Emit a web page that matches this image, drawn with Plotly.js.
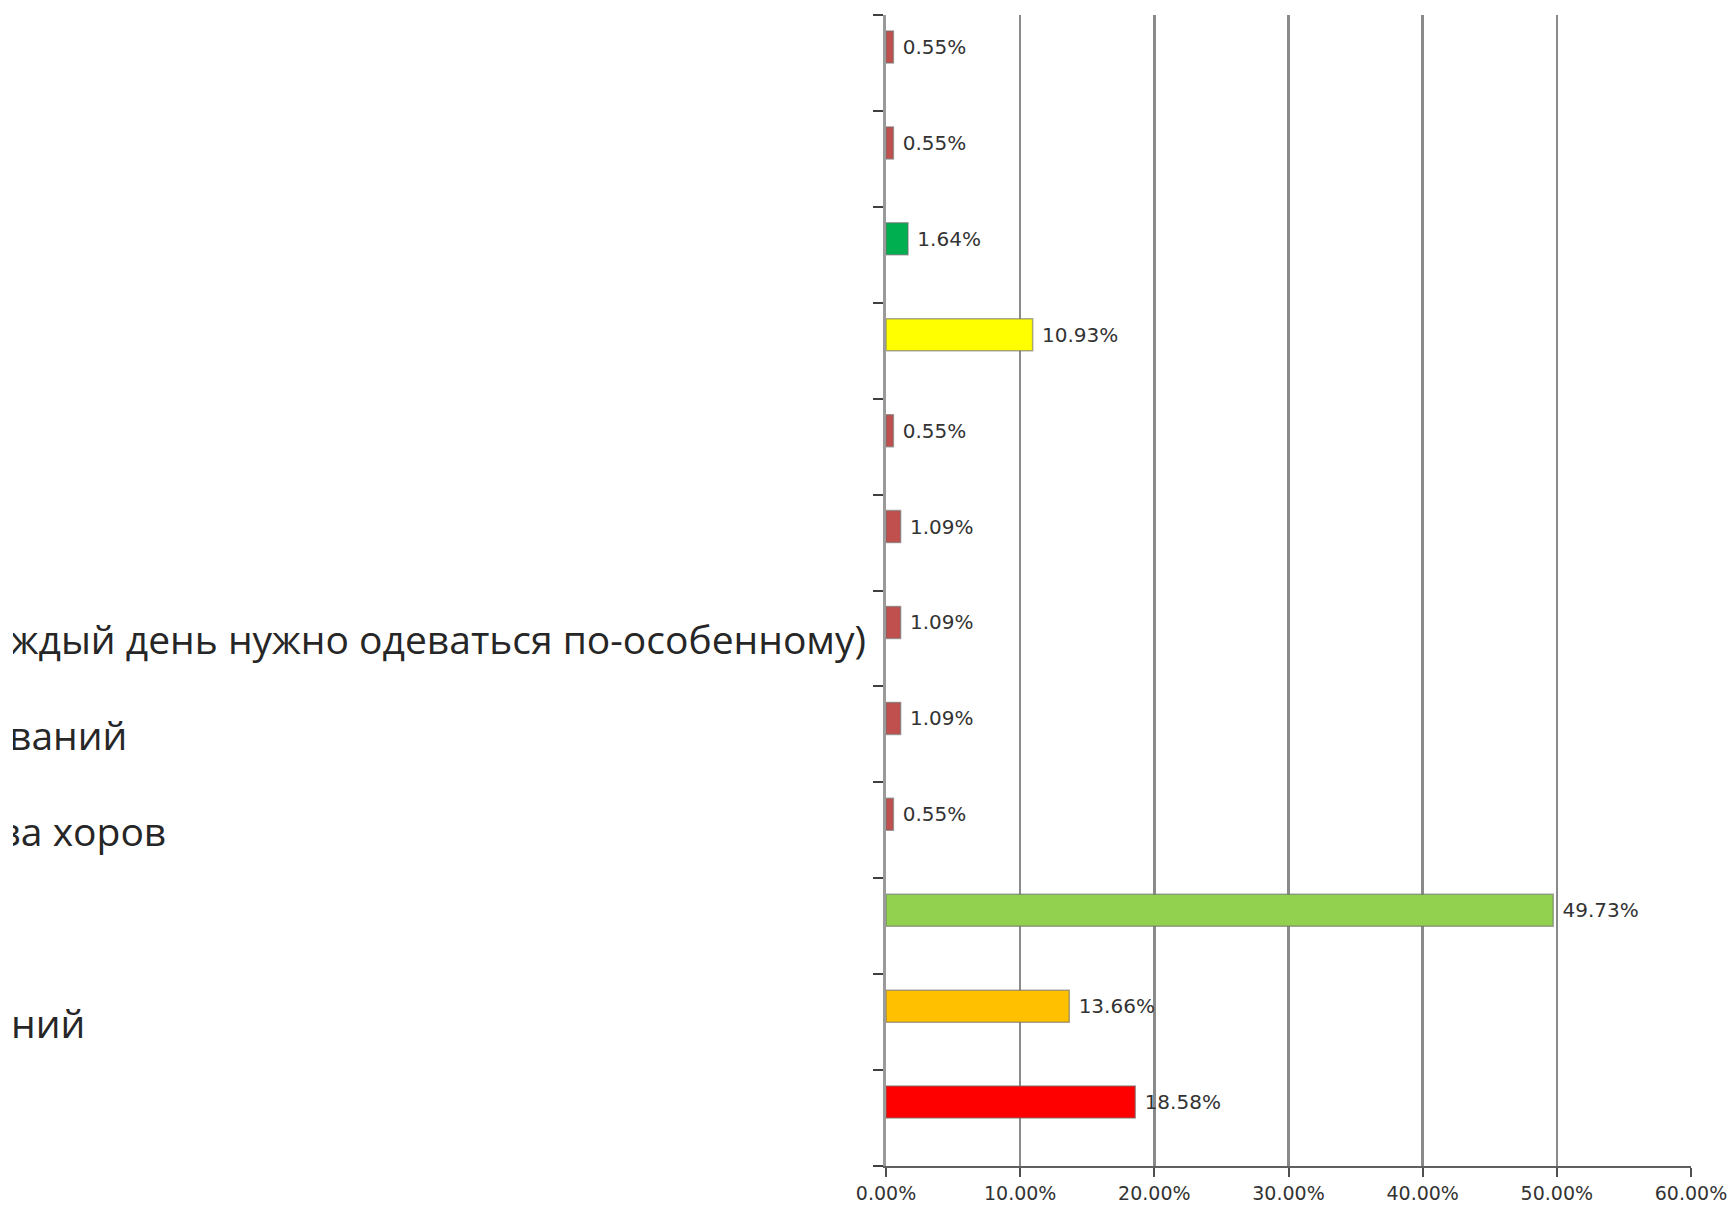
<!DOCTYPE html>
<html>
<head>
<meta charset="utf-8">
<script src="https://cdn.plot.ly/plotly-3.0.1.min.js"></script>
<style>
  html, body { margin: 0; padding: 0; background: #ffffff; }
  #wrap { position: relative; width: 1734px; height: 1207px; overflow: hidden; }
  #chart { position: absolute; left: 0; top: 0; width: 1734px; height: 1207px; }
  #edge { position: absolute; left: 0; top: 0; width: 13px; height: 1207px; background: #ffffff; }
</style>
</head>
<body>
<div id="wrap"><div id="chart"></div><div id="edge"></div></div>
<script>
// ---- data (bottom to top, as the category axis runs) ----
const categoryLabels = [
  "",
  "ний",
  "",
  "за хоров",
  "ваний",
  "каждый день нужно одеваться по-особенному)",
  "",
  "",
  "",
  "",
  "",
  ""
];
const shares = [18.58, 13.66, 49.73, 0.55, 1.09, 1.09, 1.09, 0.55, 10.93, 1.64, 0.55, 0.55];
const tickValues = [0, 10, 20, 30, 40, 50, 60];
const tickLabels = tickValues.map(v => v.toFixed(2) + "%");

// ---- styles ----
const barColors = ["#FF0000", "#FFC000", "#92D050", "#C0504D", "#C0504D", "#C0504D",
                   "#C0504D", "#C0504D", "#FFFF00", "#00B050", "#C0504D", "#C0504D"];
const labelRightPx = {1: 87, 3: 168, 4: 129, 5: 868};

const W = 1734, H = 1207;
const M = {l: 886, r: 43, t: 15, b: 41};
const plotW = W - M.l - M.r;
const toPaperX = px => (px - M.l) / plotW;

const rows = shares.map((_, i) => i);

const trace = {
  type: "bar",
  orientation: "h",
  x: shares,
  y: rows,
  width: 1 / 3,
  offset: 0,
  marker: {color: barColors, line: {color: "rgba(110,110,110,0.6)", width: 1.5}},
  texttemplate: "\u00a0%{x:.2f}%",
  textposition: "outside",
  constraintext: "none",
  cliponaxis: false,
  textfont: {family: "DejaVu Sans", size: 20, color: "#333333"},
  hoverinfo: "skip"
};

const annotations = [];
categoryLabels.forEach((t, i) => {
  if (!t) return;
  annotations.push({
    xref: "paper", yref: "y",
    x: toPaperX(labelRightPx[i]), y: i,
    xanchor: "right", yanchor: "middle",
    text: t, showarrow: false,
    font: {family: "Open Sans", size: 39, color: "#262626"}
  });
});

const layout = {
  width: W, height: H,
  margin: M,
  paper_bgcolor: "#ffffff",
  plot_bgcolor: "#ffffff",
  showlegend: false,
  bargap: 0,
  xaxis: {
    range: [0, 60],
    tickvals: tickValues,
    ticktext: tickLabels,
    showgrid: true,
    gridcolor: "#8a8a8a",
    gridwidth: 2.5,
    zeroline: false,
    showline: true,
    linecolor: "#606060",
    linewidth: 2,
    ticks: "outside",
    ticklen: 9,
    tickwidth: 2,
    tickcolor: "#505050",
    tickfont: {family: "DejaVu Sans", size: 19, color: "#333333"},
    fixedrange: true
  },
  yaxis: {
    range: [-0.5, 11.5],
    tick0: -0.5,
    dtick: 1,
    showticklabels: false,
    showgrid: false,
    zeroline: false,
    showline: true,
    linecolor: "#9a9a9a",
    linewidth: 3,
    ticks: "outside",
    ticklen: 10,
    tickwidth: 2,
    tickcolor: "#404040",
    fixedrange: true
  },
  annotations: annotations
};

Plotly.newPlot("chart", [trace], layout, {displayModeBar: false, staticPlot: true});
</script>
</body>
</html>
